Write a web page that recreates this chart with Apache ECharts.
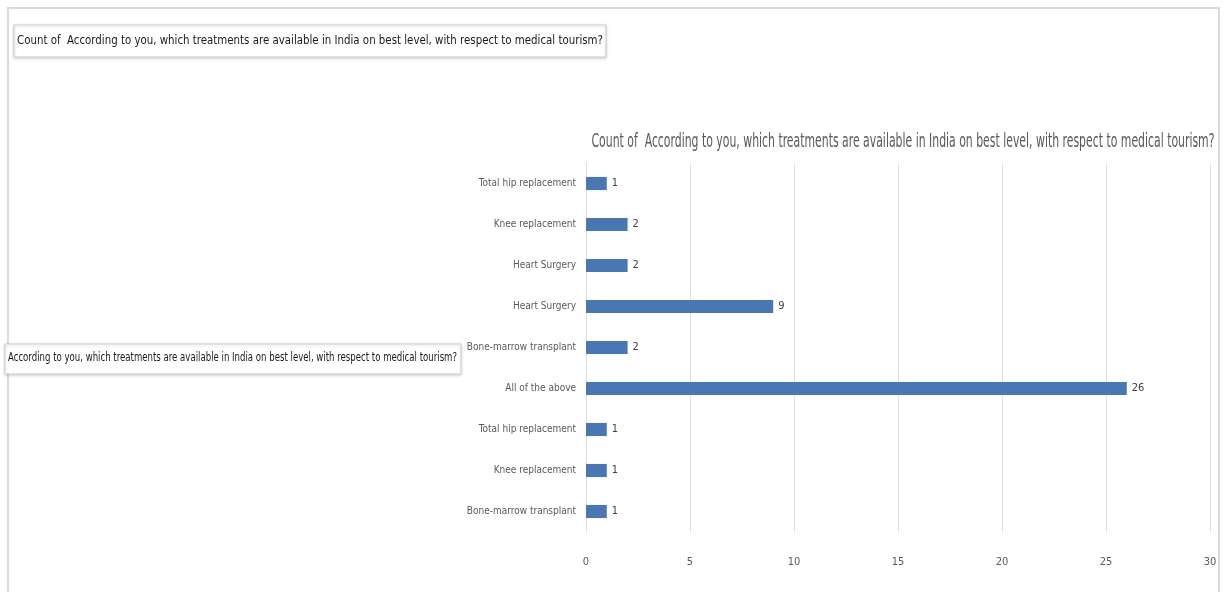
<!DOCTYPE html>
<html>
<head>
<meta charset="utf-8">
<script src="https://cdn.jsdelivr.net/npm/echarts@6/dist/echarts.min.js"></script>
<style>
  html, body { margin: 0; padding: 0; background: #ffffff; }
  #chart { width: 1225px; height: 592px; }
</style>
</head>
<body>
<div id="chart"></div>
<script>
// Survey answers, listed top to bottom as they appear in the pivot chart
const categories = [
  'Total hip replacement',
  'Knee replacement',
  'Heart Surgery',
  'Heart Surgery',
  'Bone-marrow transplant',
  'All of the above',
  'Total hip replacement',
  'Knee replacement',
  'Bone-marrow transplant'
];
const counts = [1, 2, 2, 9, 2, 26, 1, 1, 1];
const xTicks = [0, 5, 10, 15, 20, 25, 30];

const chartTitle = 'Count of  According to you, which treatments are available in India on best level, with respect to medical tourism?';
const valueField = 'Count of  According to you, which treatments are available in India on best level, with respect to medical tourism?';
const rowField = 'According to you, which treatments are available in India on best level, with respect to medical tourism?';

// pick a narrow face if one is installed
function hasFont(name) {
  const c = document.createElement('canvas').getContext('2d');
  const s = 'abcdefghijklmnopqrstuvwxyz0123456789';
  c.font = '40px monospace';
  const w0 = c.measureText(s).width;
  c.font = '40px "' + name + '", monospace';
  return c.measureText(s).width !== w0;
}
const narrowFaces = ['Liberation Sans Narrow', 'DejaVu Sans Condensed', 'Roboto Condensed', 'Open Sans Condensed'];
let FONT = 'Open Sans';
let squeeze = 0.76;
for (const f of narrowFaces) {
  if (hasFont(f)) { FONT = f; squeeze = 1; break; }
}

// fit a single-line text element into a given pixel width
function fitScale(text, font, width) {
  const c = document.createElement('canvas').getContext('2d');
  c.font = font;
  return width / c.measureText(text).width;
}

const fieldFont1 = '13px "' + FONT + '"';
const fieldFont2 = '12px "' + FONT + '"';
const titleFont = '20px "' + FONT + '"';

const chart = echarts.init(document.getElementById('chart'), null, { renderer: 'canvas' });

const option = {
  backgroundColor: '#ffffff',
  animation: false,
  graphic: [
    // outer frame of the chart sheet
    { type: 'rect', shape: { x: 8, y: 8, width: 1211, height: 600 },
      style: { fill: 'none', stroke: '#dadada', lineWidth: 2 }, silent: true },
    // value field button
    { type: 'rect', shape: { x: 14, y: 25, width: 592, height: 32 },
      style: { fill: '#ffffff', stroke: '#d0d0d0', lineWidth: 1,
               shadowBlur: 3, shadowColor: 'rgba(0,0,0,0.18)', shadowOffsetY: 1 }, silent: true },
    { type: 'text', x: 17, y: 41, scaleX: fitScale(valueField, fieldFont1, 586),
      style: { text: valueField, font: fieldFont1, fill: '#1a1a1a', verticalAlign: 'middle' } },
    // row field button
    { type: 'rect', shape: { x: 5, y: 344, width: 456, height: 30 },
      style: { fill: '#ffffff', stroke: '#d0d0d0', lineWidth: 1,
               shadowBlur: 3, shadowColor: 'rgba(0,0,0,0.18)', shadowOffsetY: 1 }, silent: true },
    { type: 'text', x: 8, y: 358, scaleX: fitScale(rowField, fieldFont2, 449),
      style: { text: rowField, font: fieldFont2, fill: '#1a1a1a', verticalAlign: 'middle' } },
    // chart title
    { type: 'text', x: 903, y: 142, scaleX: fitScale(chartTitle, titleFont, 623),
      style: { text: chartTitle, font: titleFont, fill: '#595959',
               align: 'center', verticalAlign: 'middle' } }
  ],
  grid: { left: 586, right: 15, top: 163, bottom: 60, containLabel: false },
  xAxis: {
    type: 'value',
    min: xTicks[0],
    max: xTicks[xTicks.length - 1],
    interval: xTicks[1] - xTicks[0],
    axisLine: { show: false },
    axisTick: { show: false },
    splitLine: { show: true, lineStyle: { color: '#dedede', width: 1 } },
    axisLabel: { color: '#595959', fontFamily: FONT, fontSize: 11, margin: 25 }
  },
  yAxis: {
    type: 'category',
    inverse: true,
    data: categories,
    axisLine: { show: true, lineStyle: { color: '#dedede' } },
    axisTick: { show: false },
    axisLabel: { color: '#595959', fontFamily: FONT, fontSize: 10 * squeeze, margin: 10 }
  },
  series: [{
    type: 'bar',
    data: counts,
    barWidth: '32%',
    itemStyle: { color: '#4a77b2' },
    label: { show: true, position: 'right', distance: 5, color: '#404040',
             fontFamily: FONT, fontSize: 11 }
  }]
};

chart.setOption(option);
</script>
</body>
</html>
